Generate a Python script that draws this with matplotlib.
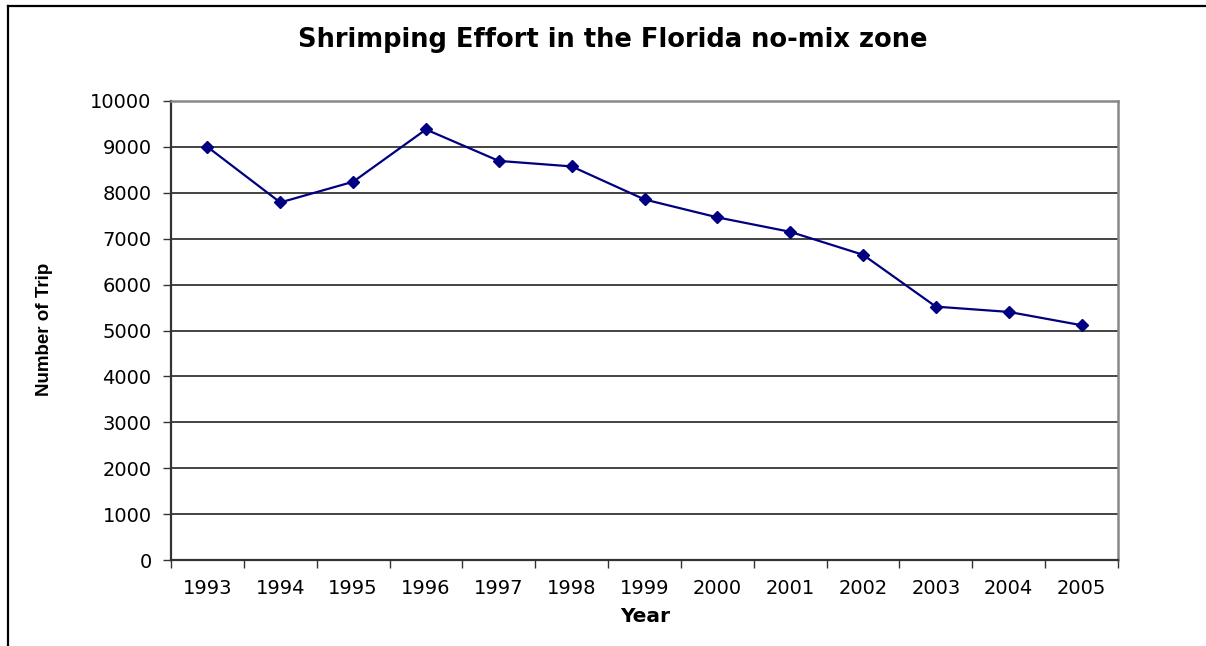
import numpy as np
import matplotlib.pyplot as plt
from matplotlib.lines import Line2D

plt.rcParams['font.family'] = ['DejaVu Sans']

years = ['1993', '1994', '1995', '1996', '1997', '1998', '1999',
         '2000', '2001', '2002', '2003', '2004', '2005']
trips = [9000, 7790, 8240, 9380, 8695, 8575, 7855,
         7465, 7150, 6650, 5520, 5405, 5115]
yticks = np.arange(0, 10001, 1000)

fig = plt.figure(figsize=(12.06, 6.46), dpi=100)
ax = fig.add_axes([171/1206, 1-560/646, (1118-171)/1206, (560-101)/646])

x = np.arange(len(years))
ax.plot(x, trips, color='#000080', lw=1.6, marker='D', ms=6.5,
        markerfacecolor='#000080', markeredgecolor='#000080', zorder=3)

ax.set_xlim(-0.5, len(years)-0.5)
ax.set_ylim(0, 10000)
ax.set_yticks(yticks)
ax.set_yticklabels([str(v) for v in yticks])
for v in yticks[1:-1]:
    ax.axhline(v, color='#111111', lw=1.1, zorder=1)

# categories: ticks between years, labels at centres
ax.set_xticks(np.arange(-0.5, len(years), 1.0))
ax.set_xticklabels([])
ax.set_xticks(x, minor=True)
ax.set_xticklabels(years, minor=True)
ax.tick_params(axis='x', which='major', length=6, width=1, color='#333333', direction='out')
ax.tick_params(axis='x', which='minor', length=0, pad=14, labelsize=14)
ax.tick_params(axis='y', length=6, width=1, color='#333333', pad=8, labelsize=14)

ax.spines['left'].set_color('#333333')
ax.spines['bottom'].set_color('#333333')
ax.spines['left'].set_linewidth(1.6)
ax.spines['bottom'].set_linewidth(1.6)
ax.spines['top'].set_color('#888888')
ax.spines['right'].set_color('#888888')
ax.spines['top'].set_linewidth(1.8)
ax.spines['right'].set_linewidth(1.8)

fig.text(613/1206, 1-40/646, 'Shrimping Effort in the Florida no-mix zone',
         ha='center', va='center', fontsize=18.5, fontweight='bold')
fig.text(645/1206, 1-617/646, 'Year', ha='center', va='center',
         fontsize=14.5, fontweight='bold')
fig.text(45/1206, 1-329/646, 'Number of Trip', ha='center', va='center',
         rotation=90, fontsize=13.5, fontweight='bold',
         family=['Liberation Sans', 'DejaVu Sans'])

# outer chart frame (left and top edges visible)
fig.add_artist(Line2D([8/1206, 8/1206], [0, 1-6/646], transform=fig.transFigure,
                      color='black', lw=1.6))
fig.add_artist(Line2D([8/1206, 1], [1-6/646, 1-6/646], transform=fig.transFigure,
                      color='black', lw=1.6))

fig.savefig('out.png', dpi=100)
